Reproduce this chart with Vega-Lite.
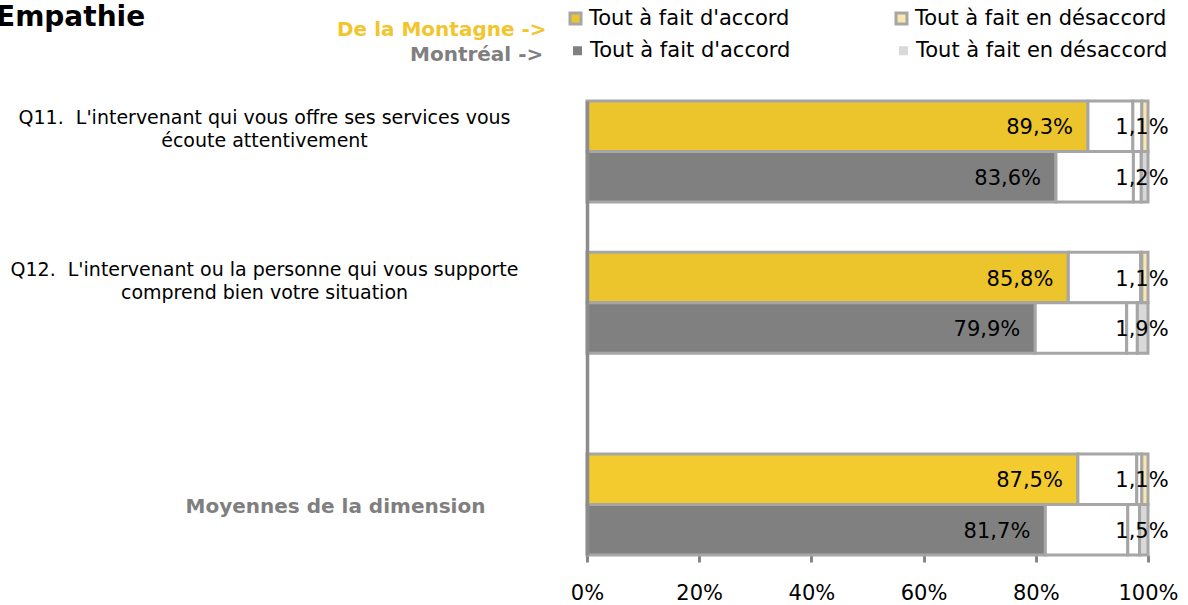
{
  "$schema": "https://vega.github.io/schema/vega-lite/v6.json",
  "autosize": "none",
  "width": 561,
  "height": 454,
  "padding": {"left": 587, "top": 101, "right": 40, "bottom": 50},
  "background": "white",
  "config": {
    "view": {"stroke": null},
    "font": "DejaVu Sans",
    "locale": {"number": {"decimal": ",", "thousands": " ", "grouping": [3], "currency": ["", " €"]}}
  },
  "title": {
    "text": "Empathie",
    "anchor": "start",
    "frame": "group",
    "font": "DejaVu Sans",
    "fontSize": 28,
    "fontWeight": "bold",
    "color": "#000000",
    "dx": -591,
    "dy": 24,
    "offset": 0
  },
  "data": {
    "values": [
      {"row": "Q11|M", "region": "Montagne", "seg": "Tout à fait d'accord", "order": 1, "pct": 0.893},
      {"row": "Q11|M", "region": "Montagne", "seg": "Plutôt d'accord", "order": 2, "pct": 0.080},
      {"row": "Q11|M", "region": "Montagne", "seg": "Plutôt en désaccord", "order": 3, "pct": 0.016},
      {"row": "Q11|M", "region": "Montagne", "seg": "Tout à fait en désaccord", "order": 4, "pct": 0.011},
      {"row": "Q11|R", "region": "Montréal", "seg": "Tout à fait d'accord", "order": 1, "pct": 0.836},
      {"row": "Q11|R", "region": "Montréal", "seg": "Plutôt d'accord", "order": 2, "pct": 0.138},
      {"row": "Q11|R", "region": "Montréal", "seg": "Plutôt en désaccord", "order": 3, "pct": 0.014},
      {"row": "Q11|R", "region": "Montréal", "seg": "Tout à fait en désaccord", "order": 4, "pct": 0.012},
      {"row": "Q12|M", "region": "Montagne", "seg": "Tout à fait d'accord", "order": 1, "pct": 0.858},
      {"row": "Q12|M", "region": "Montagne", "seg": "Plutôt d'accord", "order": 2, "pct": 0.129},
      {"row": "Q12|M", "region": "Montagne", "seg": "Plutôt en désaccord", "order": 3, "pct": 0.002},
      {"row": "Q12|M", "region": "Montagne", "seg": "Tout à fait en désaccord", "order": 4, "pct": 0.011},
      {"row": "Q12|R", "region": "Montréal", "seg": "Tout à fait d'accord", "order": 1, "pct": 0.799},
      {"row": "Q12|R", "region": "Montréal", "seg": "Plutôt d'accord", "order": 2, "pct": 0.163},
      {"row": "Q12|R", "region": "Montréal", "seg": "Plutôt en désaccord", "order": 3, "pct": 0.019},
      {"row": "Q12|R", "region": "Montréal", "seg": "Tout à fait en désaccord", "order": 4, "pct": 0.019},
      {"row": "Moy|M", "region": "Montagne", "seg": "Tout à fait d'accord", "order": 1, "pct": 0.875},
      {"row": "Moy|M", "region": "Montagne", "seg": "Plutôt d'accord", "order": 2, "pct": 0.105},
      {"row": "Moy|M", "region": "Montagne", "seg": "Plutôt en désaccord", "order": 3, "pct": 0.009},
      {"row": "Moy|M", "region": "Montagne", "seg": "Tout à fait en désaccord", "order": 4, "pct": 0.011},
      {"row": "Moy|R", "region": "Montréal", "seg": "Tout à fait d'accord", "order": 1, "pct": 0.817},
      {"row": "Moy|R", "region": "Montréal", "seg": "Plutôt d'accord", "order": 2, "pct": 0.147},
      {"row": "Moy|R", "region": "Montréal", "seg": "Plutôt en désaccord", "order": 3, "pct": 0.021},
      {"row": "Moy|R", "region": "Montréal", "seg": "Tout à fait en désaccord", "order": 4, "pct": 0.015}
    ]
  },
  "transform": [
    {"stack": "pct", "groupby": ["row"], "sort": [{"field": "order", "order": "ascending"}], "as": ["x0", "x1"]}
  ],
  "encoding": {
    "y": {
      "field": "row",
      "type": "nominal",
      "title": null,
      "scale": {
        "domain": ["Q11|M", "Q11|R", "gap1", "Q12|M", "Q12|R", "gap2", "gap3", "Moy|M", "Moy|R"],
        "paddingInner": 0,
        "paddingOuter": 0
      },
      "axis": {
        "ticks": false,
        "tickSize": 0,
        "domain": true,
        "domainColor": "#8C8C8C",
        "domainWidth": 3.5,
        "zindex": 1,
        "grid": false,
        "labelLimit": 0,
        "labelAlign": "center",
        "labelBaseline": "middle",
        "labelLineHeight": 23,
        "labelFont": "DejaVu Sans",
        "labelExpr": "datum.value == 'Q11|M' ? [\"Q11.\u00a0 L'intervenant qui vous offre ses services vous\", \"écoute attentivement\"] : datum.value == 'Q12|M' ? [\"Q12.\u00a0 L'intervenant ou la personne qui vous supporte\", \"comprend bien votre situation\"] : datum.value == 'Moy|M' ? 'Moyennes de la dimension' : ''",
        "labelPadding": {"condition": {"test": "datum.value == 'Moy|M'", "value": 252}, "value": 323},
        "labelOffset": {"condition": {"test": "datum.value == 'Moy|M'", "value": 28}, "value": -8},
        "labelColor": {"condition": {"test": "datum.value == 'Moy|M'", "value": "#7F7F7F"}, "value": "#000000"},
        "labelFontWeight": {"condition": {"test": "datum.value == 'Moy|M'", "value": "bold"}, "value": "normal"},
        "labelFontSize": {"condition": {"test": "datum.value == 'Moy|M'", "value": 20}, "value": 19}
      }
    }
  },
  "layer": [
    {
      "transform": [{"filter": "datum.region == 'Montagne'"}],
      "mark": {"type": "bar", "stroke": "#A6A6A6", "strokeWidth": 3},
      "encoding": {
        "x": {
          "field": "x0",
          "type": "quantitative",
          "scale": {"domain": [0, 1], "nice": false},
          "axis": {
            "values": [0, 0.2, 0.4, 0.6, 0.8, 1],
            "format": ".0%",
            "title": null,
            "grid": false,
            "domain": false,
            "ticks": true,
            "tickColor": "#868686",
            "tickWidth": 3,
            "tickSize": 7,
            "labelFlush": false,
            "labelPadding": 20,
            "labelFont": "DejaVu Sans",
            "labelFontSize": 21,
            "labelColor": "#000000",
            "labelBaseline": "top"
          }
        },
        "x2": {"field": "x1"},
        "fill": {
          "condition": {"test": "datum.row == 'Moy|M' && datum.order == 1", "value": "#F4CB2E"},
          "field": "seg",
          "type": "nominal",
          "scale": {
            "domain": ["Tout à fait d'accord", "Plutôt d'accord", "Plutôt en désaccord", "Tout à fait en désaccord"],
            "range": ["#ECC42B", "#FFFFFF", "#FFFFFF", "#FCE6B0"]
          },
          "legend": {
            "values": ["Tout à fait d'accord", "Tout à fait en désaccord"],
            "title": "De la Montagne ->",
            "orient": "none",
            "legendX": -250,
            "legendY": -93,
            "direction": "horizontal",
            "padding": 0,
            "titleOrient": "left",
            "titleAnchor": "end",
            "titleBaseline": "middle",
            "titlePadding": 18,
            "titleFont": "DejaVu Sans",
            "titleFontSize": 20,
            "titleFontWeight": "bold",
            "titleColor": "#F3C52C",
            "titleLimit": 0,
            "labelLimit": 0,
            "labelFont": "DejaVu Sans",
            "labelFontSize": 21,
            "labelColor": "#000000",
            "labelOffset": 3,
            "symbolType": "square",
            "symbolSize": 121,
            "symbolStrokeColor": "#A6A6A6",
            "symbolStrokeWidth": 3,
            "columnPadding": 100
          }
        }
      }
    },
    {
      "transform": [{"filter": "datum.region == 'Montréal'"}],
      "mark": {"type": "bar", "stroke": "#A6A6A6", "strokeWidth": 3},
      "encoding": {
        "x": {"field": "x0", "type": "quantitative"},
        "x2": {"field": "x1"},
        "fill": {
          "field": "seg",
          "type": "nominal",
          "scale": {
            "domain": ["Tout à fait d'accord", "Plutôt d'accord", "Plutôt en désaccord", "Tout à fait en désaccord"],
            "range": ["#808080", "#FFFFFF", "#FFFFFF", "#D9D9D9"]
          },
          "legend": {
            "values": ["Tout à fait d'accord", "Tout à fait en désaccord"],
            "title": "Montréal ->",
            "orient": "none",
            "legendX": -177,
            "legendY": -61,
            "direction": "horizontal",
            "padding": 0,
            "titleOrient": "left",
            "titleAnchor": "end",
            "titleBaseline": "alphabetic",
            "titlePadding": 23,
            "titleFont": "DejaVu Sans",
            "titleFontSize": 20,
            "titleFontWeight": "bold",
            "titleColor": "#7F7F7F",
            "titleLimit": 0,
            "labelLimit": 0,
            "labelFont": "DejaVu Sans",
            "labelFontSize": 21,
            "labelColor": "#000000",
            "labelOffset": 2,
            "symbolType": "square",
            "symbolSize": 81,
            "symbolStrokeWidth": 0,
            "columnPadding": 102
          }
        }
      }
    },
    {
      "transform": [{"filter": "datum.order == 1"}],
      "mark": {"type": "text", "align": "right", "baseline": "middle", "dx": -15, "dy": 2, "fontSize": 21, "font": "DejaVu Sans", "color": "#000000"},
      "encoding": {
        "x": {"field": "x1", "type": "quantitative"},
        "text": {"field": "pct", "type": "quantitative", "format": ".1%"}
      }
    },
    {
      "transform": [{"filter": "datum.order == 4"}],
      "mark": {"type": "text", "align": "center", "baseline": "middle", "dx": -6, "dy": 2, "fontSize": 21, "font": "DejaVu Sans", "color": "#000000"},
      "encoding": {
        "x": {"field": "x1", "type": "quantitative"},
        "text": {"field": "pct", "type": "quantitative", "format": ".1%"}
      }
    }
  ],
  "resolve": {"scale": {"fill": "independent"}, "legend": {"fill": "independent"}}
}
